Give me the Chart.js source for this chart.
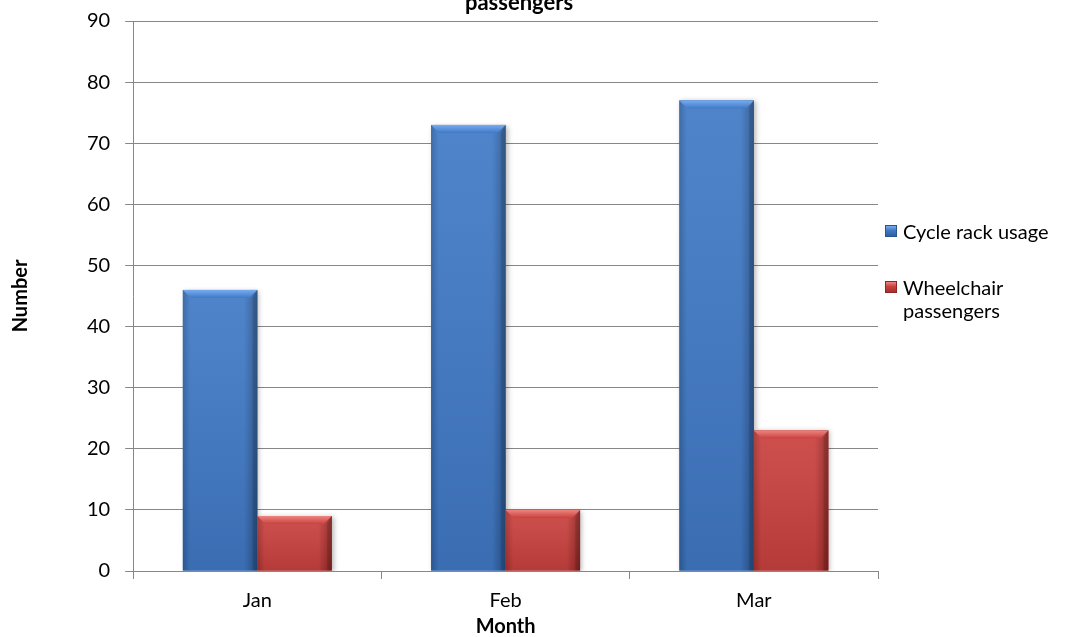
<!DOCTYPE html>
<html>
<head>
<meta charset="utf-8">
<script src="https://cdn.jsdelivr.net/npm/chart.js@4.4.1/dist/chart.umd.min.js"></script>
<style>
  html, body { margin: 0; padding: 0; background: #fff; overflow: hidden; }
  #wrap { position: relative; width: 1069px; height: 637px; overflow: hidden; }
  #box { position: absolute; left: 0; top: 0; width: 1069px; height: 637px; }
  #title { position: absolute; left: 519px; top: -37px; transform: translateX(-50%); white-space: pre; text-align: center;
           font-family: Lato, sans-serif; font-weight: bold; font-size: 22px; line-height: 26px; color: #000; }
  #legend { position: absolute; left: 885px; top: 220px; font-family: Lato, sans-serif; font-size: 20px; line-height: 23px; color: #000; }
  #legend .item { position: relative; padding-left: 18px; width: 165px; margin-bottom: 33px; }
  #legend .swatch { position: absolute; left: 0; top: 5px; width: 12px; height: 12px; box-sizing: border-box; }
</style>
</head>
<body>
<div id="wrap">
  <div id="box"><canvas id="chart"></canvas></div>
  <div id="title"></div>
  <div id="legend"></div>
</div>
<script>
const months = ['Jan', 'Feb', 'Mar'];
const cycleRack = [46, 73, 77];
const wheelchair = [9, 10, 23];
const seriesNames = ['Cycle rack usage', 'Wheelchair passengers'];
const titleLines = ['Cycle rack usage and wheelchair', 'passengers'];

// shading for the bevelled bars: light top, mid body, dark edges
const tones = [
  { light: '#78acf0', mid: '#4079c6', edge: '#2f609f', dark: '#29548c', base: '#3c74bf' },
  { light: '#ee8480', mid: '#c9413e', edge: '#a3302d', dark: '#8d2624', base: '#c43f3c' }
];

function poly(c, pts, fill) {
  c.beginPath();
  c.moveTo(pts[0][0], pts[0][1]);
  for (let i = 1; i < pts.length; i++) c.lineTo(pts[i][0], pts[i][1]);
  c.closePath();
  c.fillStyle = fill;
  c.fill();
}

const bevelBars = {
  id: 'bevelBars',
  beforeDatasetsDraw(chart) {
    const c = chart.ctx;
    c.save();
    c.shadowColor = 'rgba(0,0,0,0.28)';
    c.shadowBlur = 5;
    c.shadowOffsetX = 2;
    c.shadowOffsetY = 1;
  },
  afterDatasetsDraw(chart) {
    const c = chart.ctx;
    c.restore();
    chart.data.datasets.forEach((ds, i) => {
      const t = tones[i];
      chart.getDatasetMeta(i).data.forEach(bar => {
        const { x, y, base, width } = bar.getProps(['x', 'y', 'base', 'width'], true);
        const l = x - width / 2, r = x + width / 2;
        const b = Math.min(8, (base - y) / 2);
        const g = c.createLinearGradient(l, 0, r, 0);
        g.addColorStop(0, t.edge);
        g.addColorStop(0.1, t.mid);
        g.addColorStop(0.82, t.mid);
        g.addColorStop(1, t.dark);
        c.fillStyle = g;
        c.fillRect(l, y, width, base - y);
        const v = c.createLinearGradient(0, y, 0, base);
        v.addColorStop(0, 'rgba(255,255,255,0.08)');
        v.addColorStop(1, 'rgba(0,0,0,0.1)');
        c.fillStyle = v;
        c.fillRect(l, y, width, base - y);
        const tg = c.createLinearGradient(0, y, 0, y + b);
        tg.addColorStop(0, t.light);
        tg.addColorStop(1, t.mid);
        poly(c, [[l, y], [r, y], [r - b, y + b], [l + b, y + b]], tg);
        poly(c, [[r, y], [r, base], [r - b * 0.6, base], [r - b * 0.6, y + b]], 'rgba(0,0,0,0.12)');
      });
    });
  }
};

const chart = new Chart(document.getElementById('chart'), {
  type: 'bar',
  data: {
    labels: months,
    datasets: [
      { label: seriesNames[0], data: cycleRack, backgroundColor: tones[0].base },
      { label: seriesNames[1], data: wheelchair, backgroundColor: tones[1].base }
    ]
  },
  options: {
    responsive: true,
    maintainAspectRatio: false,
    animation: false,
    datasets: { bar: { categoryPercentage: 0.6, barPercentage: 1.0 } },
    layout: { padding: { left: 0, right: 191, top: 0, bottom: 0 } },
    plugins: {
      legend: { display: false },
      tooltip: { enabled: false },
      title: { display: false }
    },
    scales: {
      x: {
        grid: { offset: true, drawOnChartArea: false, drawTicks: true, tickLength: 8, color: '#878787' },
        border: { color: '#878787', width: 1 },
        ticks: { color: '#000', padding: 10, font: { family: 'Lato', size: 20 } },
        title: {
          display: true, text: 'Month', color: '#000',
          font: { family: 'Lato', size: 20, weight: 'bold', lineHeight: 1.0 },
          padding: { top: -6, bottom: 0 }
        }
      },
      y: {
        min: 0,
        max: 90,
        grid: { color: '#878787', tickLength: 8, drawTicks: true },
        border: { color: '#878787', width: 1 },
        ticks: { stepSize: 10, color: '#000', padding: 15, font: { family: 'Lato', size: 20, lineHeight: 0.6 } },
        title: {
          display: true, text: 'Number', color: '#000',
          font: { family: 'Lato', size: 20, weight: 'bold', lineHeight: 1.2 },
          padding: { top: 9, bottom: 39 }
        }
      }
    }
  },
  plugins: [bevelBars]
});

document.getElementById('title').textContent = titleLines.join('\n');

// legend built from the datasets, placed to the right of the plot
const legend = document.getElementById('legend');
chart.data.datasets.forEach((ds, i) => {
  const t = tones[i];
  const item = document.createElement('div');
  item.className = 'item';
  const sw = document.createElement('span');
  sw.className = 'swatch';
  sw.style.background = 'linear-gradient(to bottom, ' + t.light + ' 0%, ' + t.mid + ' 45%, ' + t.edge + ' 100%)';
  sw.style.border = '1px solid ' + t.dark;
  item.appendChild(sw);
  item.appendChild(document.createTextNode(ds.label));
  legend.appendChild(item);
});
</script>
</body>
</html>
